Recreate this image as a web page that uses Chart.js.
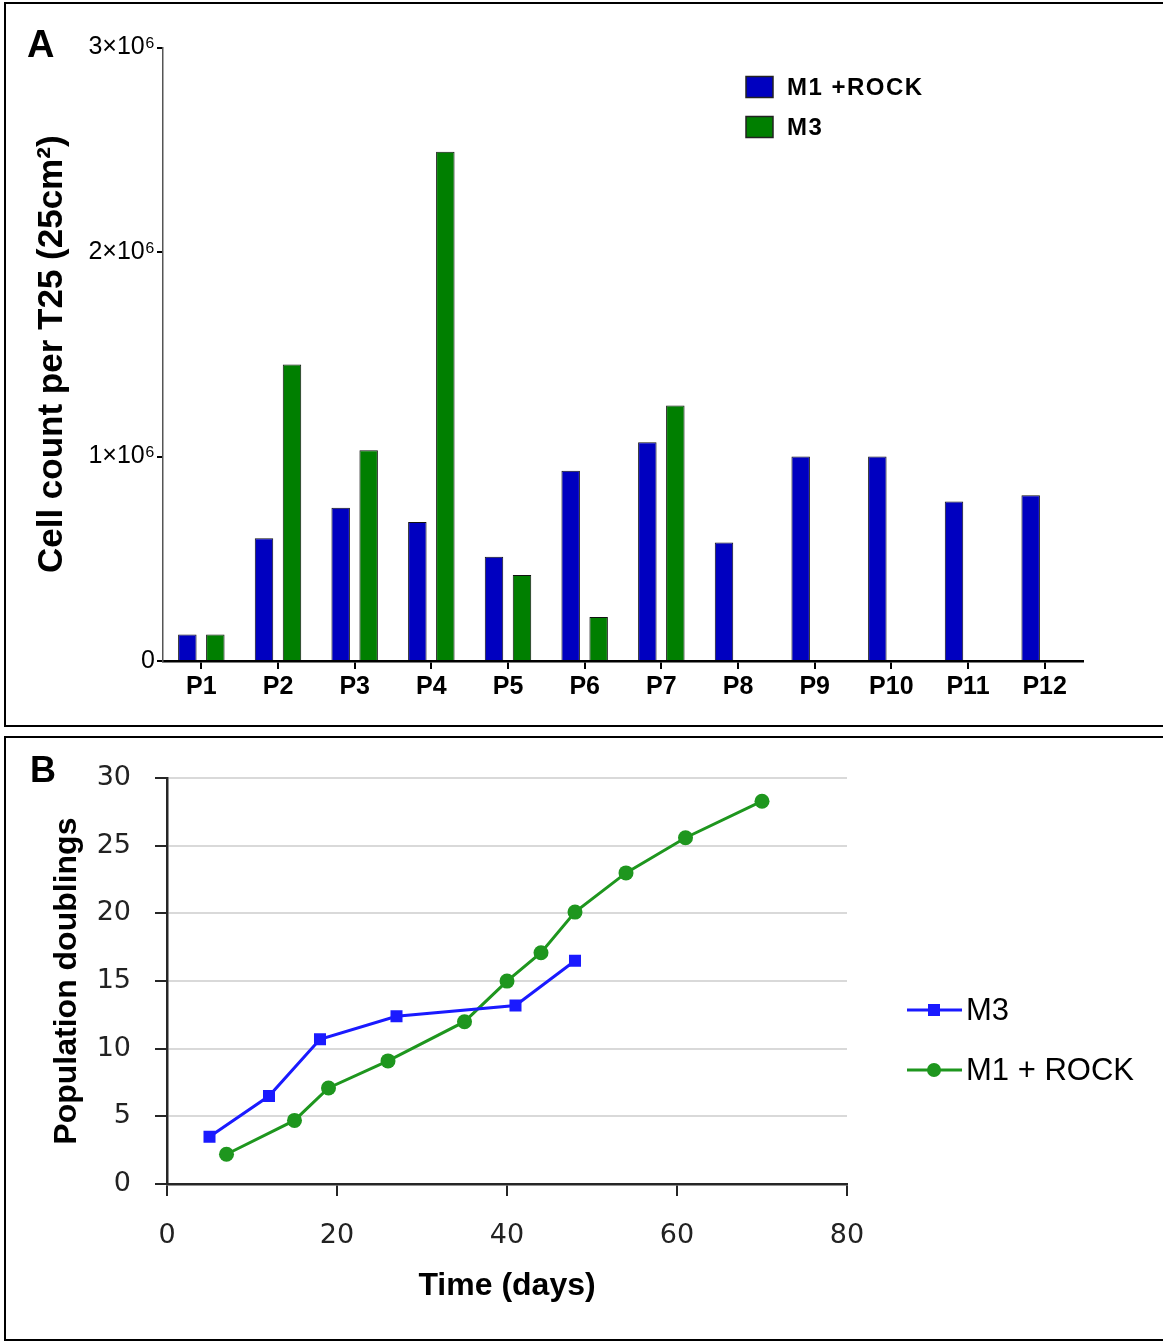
<!DOCTYPE html>
<html>
<head>
<meta charset="utf-8">
<script src="https://cdn.jsdelivr.net/npm/chart.js@4.4.1/dist/chart.umd.min.js"></script>
<style>
  body { margin: 0; background: #fff; width: 1163px; height: 1343px; position: relative; overflow: hidden; }
  .panel { position: absolute; left: 4px; width: 1157px; border: 2px solid #000; background: #fff; }
  #panelA { top: 2px; height: 721px; }
  #panelB { top: 736px; height: 601px; }
  .panel canvas { position: absolute; left: 0; top: 0; }
  .letter { position: absolute; font: bold 38px "Liberation Sans", Arial, sans-serif; line-height: 1; color: #000; }
</style>
</head>
<body>
<div class="panel" id="panelA">
  <canvas id="count-chart" width="1157" height="721"></canvas>
  <div class="letter" style="left:21px; top:21px">A</div>
</div>
<div class="panel" id="panelB">
  <canvas id="doubling-chart" width="1157" height="601"></canvas>
  <div class="letter" style="left:24px; top:14px; font-size:36px">B</div>
</div>
<script>
/* Data
================================================================ */

// Panel A: cell count per passage
const passages = ['P1', 'P2', 'P3', 'P4', 'P5', 'P6', 'P7', 'P8', 'P9', 'P10', 'P11', 'P12']
const rockCounts = [130000, 600000, 750000, 680000, 510000, 930000, 1070000, 580000, 1000000, 1000000, 780000, 810000]
const m3Counts = [130000, 1450000, 1030000, 2490000, 420000, 215000, 1250000, null, null, null, null, null]
const countTicks = [0, 1000000, 2000000, 3000000]

// Panel B: population doublings over time
const m3Days = [5, 12, 18, 27, 41, 48]
const m3Doublings = [3.5, 6.5, 10.7, 12.4, 13.2, 16.5]
const rockDays = [7, 15, 19, 26, 35, 40, 44, 48, 54, 61, 70]
const rockDoublings = [2.2, 4.7, 7.1, 9.1, 12.0, 15.0, 17.1, 20.1, 23.0, 25.6, 28.3]
const dayTicks = [0, 20, 40, 60, 80]
const doublingTicks = [0, 5, 10, 15, 20, 25, 30]

/* Helpers
================================================================ */

const arial = '"Liberation Sans", Arial, sans-serif'
const verdana = '"DejaVu Sans", Verdana, sans-serif'

function countLabel(v) {
  return v === 0 ? '0' : (v / 1000000) + '×10⁶'
}

function toPoints(xs, ys) {
  return xs.map((x, i) => ({ x: x, y: ys[i] }))
}

// legend drawn inside the panel, at a fixed spot
const panelLegend = {
  id: 'panelLegend',
  afterDraw(chart, args, opts) {
    const ctx = chart.ctx
    ctx.save()
    ctx.font = opts.font
    ctx.textBaseline = 'middle'
    if (opts.spacing) ctx.letterSpacing = opts.spacing
    chart.data.datasets.forEach((ds, i) => {
      const y = opts.y + i * opts.gap
      if (opts.kind === 'box') {
        ctx.fillStyle = ds.backgroundColor
        ctx.fillRect(opts.x, y - 10.5, 27, 21)
        ctx.lineWidth = 1.5
        ctx.strokeStyle = '#222'
        ctx.strokeRect(opts.x, y - 10.5, 27, 21)
        ctx.fillStyle = '#000'
        ctx.fillText(ds.label, opts.x + 41, y + 1)
      } else {
        ctx.strokeStyle = ds.borderColor
        ctx.lineWidth = ds.borderWidth
        ctx.beginPath()
        ctx.moveTo(opts.x, y)
        ctx.lineTo(opts.x + 55, y)
        ctx.stroke()
        ctx.fillStyle = ds.pointBackgroundColor
        if (ds.pointStyle === 'rect') {
          ctx.fillRect(opts.x + 21, y - 6, 12, 12)
        } else {
          ctx.beginPath()
          ctx.arc(opts.x + 27, y, 7, 0, Math.PI * 2)
          ctx.fill()
        }
        ctx.fillStyle = '#000'
        ctx.fillText(ds.label, opts.x + 59, y + 1)
      }
    })
    ctx.restore()
  }
}

/* Panel A - bar chart
================================================================ */

const countChart = new Chart(document.getElementById('count-chart'), {
  type: 'bar',
  data: {
    labels: passages,
    datasets: [
      {
        label: 'M1 +ROCK',
        data: rockCounts,
        backgroundColor: '#0000c0',
        borderColor: '#111',
        borderWidth: 1,
        categoryPercentage: 0.73,
        barPercentage: 0.66
      },
      {
        label: 'M3',
        data: m3Counts,
        backgroundColor: '#007f00',
        borderColor: '#111',
        borderWidth: 1,
        categoryPercentage: 0.73,
        barPercentage: 0.66
      }
    ]
  },
  plugins: [panelLegend],
  options: {
    responsive: false,
    animation: false,
    devicePixelRatio: 1,
    layout: { padding: { left: 0, top: 43.5, right: 80, bottom: 0 } },
    scales: {
      x: {
        afterFit: (scale) => { scale.height = 64 },
        grid: { drawOnChartArea: false, offset: false, tickLength: 8, tickColor: '#000', lineWidth: 2 },
        border: { color: '#000', width: 2.5 },
        ticks: { color: '#000', padding: 3, font: { family: arial, size: 25, weight: 'bold' } }
      },
      y: {
        min: 0,
        max: 3000000,
        afterFit: (scale) => { scale.width = 157 },
        afterBuildTicks: (scale) => { scale.ticks = countTicks.map(v => ({ value: v })) },
        grid: { drawOnChartArea: false, tickLength: 6, tickColor: '#000', lineWidth: 2 },
        border: { color: '#555', width: 1.5 },
        ticks: { color: '#000', padding: 2, callback: countLabel, font: { family: arial, size: 25 } },
        title: {
          display: true,
          text: 'Cell count per T25 (25cm²)',
          color: '#000',
          padding: { top: 25 },
          font: { family: arial, size: 35, weight: 'bold' }
        }
      }
    },
    plugins: {
      legend: { display: false },
      tooltip: { enabled: false },
      panelLegend: { kind: 'box', x: 740, y: 83, gap: 40, font: 'bold 24px ' + arial, spacing: '1.5px' }
    }
  }
})

/* Panel B - line chart
================================================================ */

const doublingChart = new Chart(document.getElementById('doubling-chart'), {
  type: 'line',
  data: {
    datasets: [
      {
        label: 'M3',
        data: toPoints(m3Days, m3Doublings),
        borderColor: '#1a1aff',
        borderWidth: 3,
        pointStyle: 'rect',
        pointRadius: 8.5,
        pointBackgroundColor: '#1a1aff',
        pointBorderWidth: 0
      },
      {
        label: 'M1 + ROCK',
        data: toPoints(rockDays, rockDoublings),
        borderColor: '#1e961e',
        borderWidth: 3,
        pointStyle: 'circle',
        pointRadius: 7.5,
        pointBackgroundColor: '#1e961e',
        pointBorderWidth: 0
      }
    ]
  },
  plugins: [panelLegend],
  options: {
    responsive: false,
    animation: false,
    devicePixelRatio: 1,
    layout: { padding: { left: 0, top: 37, right: 316, bottom: 0 } },
    scales: {
      x: {
        type: 'linear',
        min: 0,
        max: 80,
        afterFit: (scale) => { scale.height = 155 },
        afterBuildTicks: (scale) => { scale.ticks = dayTicks.map(v => ({ value: v })) },
        grid: { drawOnChartArea: false, tickLength: 12, tickColor: '#262626', lineWidth: 2 },
        border: { color: '#262626', width: 2.5 },
        ticks: { color: '#222', padding: 24, font: { family: verdana, size: 27 } },
        title: {
          display: true,
          text: 'Time (days)',
          color: '#000',
          padding: { bottom: 34 },
          font: { family: arial, size: 32, weight: 'bold' }
        }
      },
      y: {
        min: 0,
        max: 30,
        afterFit: (scale) => { scale.width = 161 },
        afterBuildTicks: (scale) => { scale.ticks = doublingTicks.map(v => ({ value: v })) },
        grid: { color: '#d9d9d9', lineWidth: 2, tickLength: 12, tickColor: '#262626' },
        border: { color: '#262626', width: 2.5 },
        ticks: { color: '#222', padding: 24, font: { family: verdana, size: 27 } },
        title: {
          display: true,
          text: 'Population doublings',
          color: '#000',
          padding: { top: 42 },
          font: { family: arial, size: 32, weight: 'bold' }
        }
      }
    },
    plugins: {
      legend: { display: false },
      tooltip: { enabled: false },
      panelLegend: { kind: 'line', x: 901, y: 272, gap: 60, font: '31px ' + arial }
    }
  }
})
</script>
</body>
</html>
